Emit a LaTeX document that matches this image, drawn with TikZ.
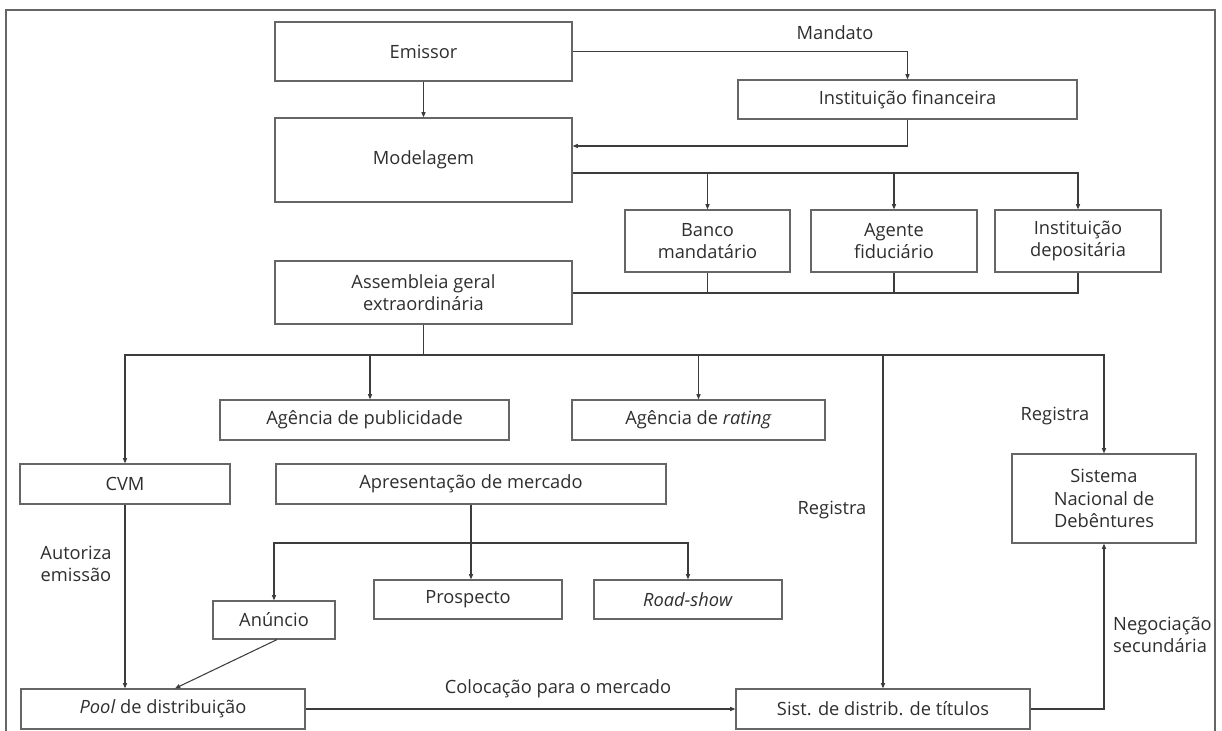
\documentclass[tikz,border=0pt]{standalone}
\usepackage{fontspec}
\setmainfont{Open Sans}
\usetikzlibrary{arrows.meta}
\definecolor{boxgray}{HTML}{666666}
\definecolor{linegray}{HTML}{3C3C3C}
\definecolor{txt}{HTML}{2E2E2E}
\newcommand{\lblfont}{\fontsize{15.6}{19}\selectfont}
\begin{document}
\begin{tikzpicture}[x=0.03cm,y=-0.03cm,
  bx/.style 2 args={draw=boxgray, line width=1pt, minimum width=#1*0.03cm,
    minimum height=#2*0.03cm, inner sep=0pt, align=center, font=\lblfont, text=txt},
  lbl/.style={font=\lblfont, text=txt, align=center, inner sep=0pt},
  conn/.style={draw=linegray, line width=0.9pt},
  arr/.style={conn, -{Triangle[length=4.5pt,width=3.5pt]}}]
\useasboundingbox (0,0) rectangle (1222,731);
% outer frame
\draw[boxgray, line width=1pt] (6,735) -- (6,10) -- (1215,10) -- (1215,735);

% nodes
\node[bx={297}{59}] (emissor) at (423.5,51.5) {Emissor};
\node[bx={297}{84}] (modelagem) at (423.5,160) {Modelagem};
\node[bx={297}{63}] (assembleia) at (423.5,292.5) {Assembleia geral\\extraordinária};
\node[bx={339}{39}] (instfin) at (907.5,99.5) {Instituição financeira};
\node[bx={165}{62}] (banco) at (707.5,241) {Banco\\mandatário};
\node[bx={166}{62}] (agente) at (894,241) {Agente\\fiduciário};
\node[bx={166}{62}] (instdep) at (1078,241) {Instituição\\depositária};
\node[bx={289}{40}] (agpub) at (364.5,420) {Agência de publicidade};
\node[bx={253}{40}] (agrating) at (698.5,420) {Agência de \textit{rating}};
\node[bx={210}{40}] (cvm) at (125,484) {CVM};
\node[bx={390}{40}] (apres) at (471,484) {Apresentação de mercado};
\node[bx={122}{38}] (anuncio) at (274,620) {Anúncio};
\node[bx={188}{39}] (prospecto) at (468,599.5) {Prospecto};
\node[bx={188}{39}] (roadshow) at (688,599.5) {\textit{Road-show}};
\node[bx={184}{89}] (snd) at (1104,498.5) {Sistema\\Nacional de\\Debêntures};
\node[bx={284}{40}] (pool) at (163,709) {\textit{Pool} de distribuição};
\node[bx={294}{40}] (sist) at (883,709) {Sist. de distrib. de títulos};

% labels
\node[lbl] (mandato) at (835,33) {Mandato};
\node[lbl] (autoriza) at (76,564) {Autoriza\\emissão};
\node[lbl] (coloc) at (558,689) {Colocação para o mercado};
\node[lbl] (reg1) at (832,510) {Registra};
\node[lbl] (reg2) at (1055,416) {Registra};
\node[lbl, align=left, anchor=west] (negoc) at (1113,635) {Negociação\\secundária};

% connectors top
\draw[arr] (emissor.east) -| (instfin.north);
\draw[arr] (emissor.south) -- (modelagem.north);
\draw[arr] (instfin.south) |- (modelagem.east |- 0,146);
\coordinate (mline) at (modelagem.east |- 0,173);
\draw[arr] (mline) -| (instdep.north);
\draw[arr] (banco.north |- mline) -- (banco.north);
\draw[arr] (agente.north |- mline) -- (agente.north);
% return lines to assembleia
\coordinate (aline) at (assembleia.east |- 0,293);
\draw[conn] (aline) -| (instdep.south);
\draw[conn] (banco.south) -- (banco.south |- aline);
\draw[conn] (agente.south) -- (agente.south |- aline);

% distribution branch
\coordinate (hb) at (423.5,355);
\draw[conn] (assembleia.south) -- (hb);
\draw[arr] (hb) -| (cvm.north);
\draw[arr] (hb) -| (snd.north);
\draw[arr] (hb -| 370,0) -- (agpub.north -| 370,0);
\draw[arr] (hb -| agrating.north) -- (agrating.north);
\draw[arr] (hb -| sist.north) -- (sist.north);

% presentation branch
\draw[arr] (apres.south) -- (apres.south |- prospecto.north);
\coordinate (pb) at (apres.south |- 0,543);
\draw[arr] (pb) -| (anuncio.north);
\draw[arr] (pb) -| (roadshow.north);

% bottom
\draw[arr] (cvm.south) -- (cvm.south |- pool.north);
\draw[arr] (anuncio.south -| 277,0) -- (pool.north -| 175,0);
\draw[arr] (pool.east) -- (sist.west);
\draw[arr] (sist.east) -| (snd.south);
\end{tikzpicture}
\end{document}
